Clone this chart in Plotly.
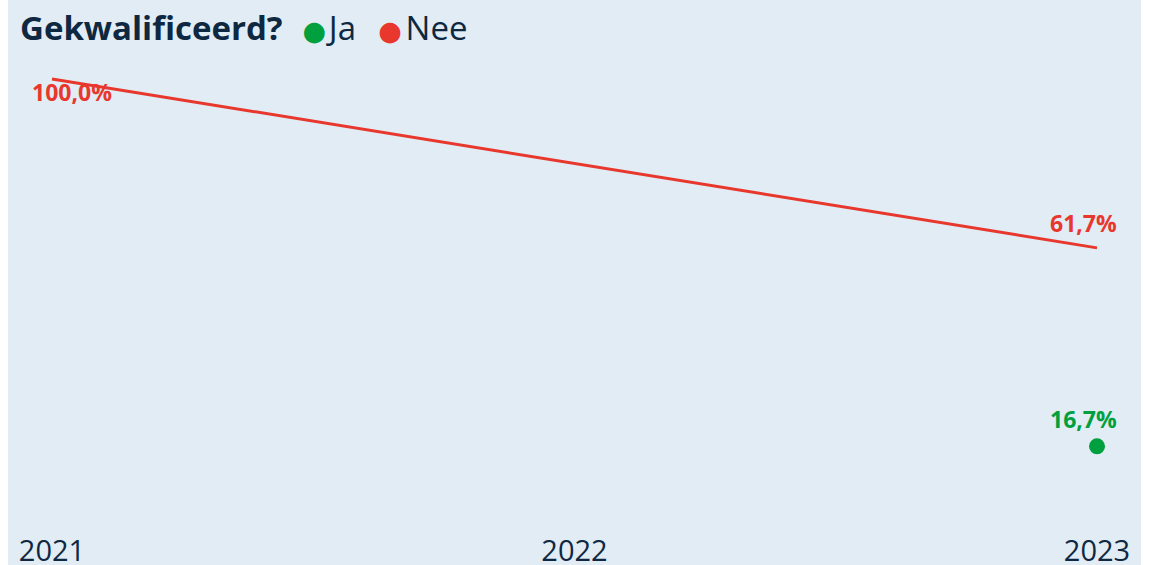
"""Gekwalificeerd? - aandeel Ja / Nee per jaar."""

import plotly.graph_objects as go

YEARS = [2021, 2022, 2023]
JA = [None, None, 16.7]
NEE = [100.0, None, 61.7]

GREEN = "#00A03E"
RED = "#E8372D"
NAVY = "#0E2841"
PANEL = "#E1ECF4"
FONT = "Open Sans"

W, H = 1157, 565
M_L, M_R, M_T, M_B = 8, 16, 0, 35
PLOT_W = W - M_L - M_R
PLOT_H = H - M_T - M_B
NBSP = "\u00a0"


def pct(v):
    return f"{v:.1f}%".replace(".", ",")


fig = go.Figure()
fig.add_trace(
    go.Scatter(
        x=YEARS, y=NEE, name="Nee", mode="lines", connectgaps=True,
        line=dict(color=RED, width=3),
    )
)
fig.add_trace(
    go.Scatter(
        x=YEARS, y=JA, name="Ja", mode="markers",
        marker=dict(color=GREEN, size=16),
    )
)

# data labels
for series, color, shifts in ((NEE, RED, {2021: (20, -13), 2023: (-14, 25)}),
                              (JA, GREEN, {2023: (-14, 27)})):
    for yr, v in zip(YEARS, series):
        if v is None:
            continue
        dx, dy = shifts[yr]
        fig.add_annotation(
            x=yr, y=v, text=f"<b>{pct(v)}</b>", showarrow=False,
            xshift=dx, yshift=dy, font=dict(family=FONT, size=23, color=color),
        )


def gap(px):
    return f'<span style="font-size:{px}px">' + NBSP + "</span>"


dot = '<span style="color:{};font-family:DejaVu Sans;font-size:27px">●</span>'
title = (
    "<b>Gekwalificeerd?</b>" + gap(33) + gap(44)
    + dot.format(GREEN) + gap(10) + "Ja" + gap(33) + gap(33) + gap(20)
    + dot.format(RED) + gap(14) + "Nee"
)

fig.update_layout(
    width=W, height=H,
    margin=dict(l=M_L, r=M_R, t=M_T, b=M_B),
    paper_bgcolor=PANEL, plot_bgcolor=PANEL,
    showlegend=False,
    title=dict(
        text=title, x=20 / W, xanchor="left", y=1 - 28 / H, yanchor="middle",
        font=dict(family=FONT, size=33, color=NAVY),
    ),
    xaxis=dict(
        range=[2020.9158, 2023.0842], tickvals=YEARS, ticktext=[str(y) for y in YEARS],
        showgrid=False, zeroline=False, showline=False, automargin=False,
        ticklabelstandoff=1,
        tickfont=dict(family=FONT, size=29, color=NAVY),
    ),
    yaxis=dict(range=[-2.27, 117.9], visible=False, showgrid=False),
    shapes=[
        dict(type="rect", xref="paper", yref="paper", x0=-M_L / PLOT_W, x1=0,
             y0=-M_B / PLOT_H - 0.1, y1=1.1, fillcolor="white", line=dict(width=0), layer="below"),
        dict(type="rect", xref="paper", yref="paper", x0=1, x1=1 + M_R / PLOT_W,
             y0=-M_B / PLOT_H - 0.1, y1=1.1, fillcolor="white", line=dict(width=0), layer="below"),
    ],
)

fig.write_html(
    "out.html",
    config={"displayModeBar": False},
    post_script="document.body.style.margin='0';",
)
